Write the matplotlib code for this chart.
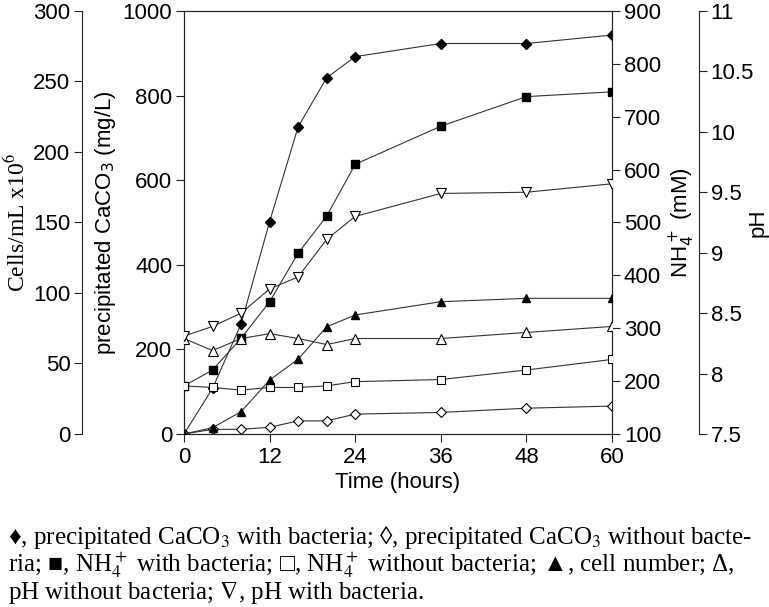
import matplotlib
matplotlib.use('Agg')
import matplotlib.pyplot as plt

# time points (hours)
hours = [0, 4, 8, 12, 16, 20, 24, 36, 48, 60]

# precipitated CaCO3 (mg/L)
caco3_bact = [0, 108, 260, 502, 726, 842, 892, 923, 923, 943]
caco3_nobact = [0, 11, 11, 16, 31, 31, 47, 51, 61, 66]

# NH4+ (mM)
nh4_bact = [191, 221, 281, 350, 442, 512, 610, 682, 738, 747]
nh4_nobact = [191, 188, 183, 188, 188, 191, 199, 203, 221, 241]

# cell number (cells/mL x10^6)
cells = [0, 4.5, 15.8, 38.3, 53, 76, 84.4, 93.8, 96.2, 96.2]

# pH
ph_nobact = [8.29, 8.19, 8.29, 8.33, 8.29, 8.24, 8.29, 8.29, 8.34, 8.39]
ph_bact = [8.31, 8.39, 8.50, 8.70, 8.80, 9.11, 9.30, 9.49, 9.50, 9.57]

caption = [
    '\u2666, precipitated CaCO$_3$ with bacteria; \u25ca, precipitated CaCO$_3$ without bacte-',
    'ria; \u25a0, NH$_4^+$ with bacteria; \u25a1, NH$_4^+$ without bacteria; \u25b2, cell number; \u0394,',
    'pH without bacteria; $\\nabla$, pH with bacteria.',
]

sans = 'Liberation Sans'
serif = 'Liberation Serif'
fs = 16
line_c = '#333333'
spine_c = '#222222'

fig = plt.figure(figsize=(7.69, 6.07), dpi=100)
ax = fig.add_axes([0.2393, 0.285, 0.5565, 0.697])
ax_nh4 = ax.twinx()
ax_cells = ax.twinx()
ax_ph = ax.twinx()


def style_ticks(a):
    a.tick_params(axis='y', direction='out', length=5.5, width=0.8, color=spine_c,
                  labelsize=fs, pad=3)
    for lab in a.get_yticklabels():
        lab.set_fontfamily(sans)


# CaCO3 on main axis
ax.plot(hours, caco3_bact, color=line_c, lw=0.8, marker='D', ms=5,
        mfc='black', mec='black', zorder=5)
ax.plot(hours, caco3_nobact, color=line_c, lw=0.8, marker='D', ms=5,
        mfc='white', mec='black', mew=0.8, zorder=5)
ax.set_xlim(0, 60)
ax.set_ylim(0, 1000)
ax.set_xticks(range(0, 61, 12))
ax.set_yticks(range(0, 1001, 200))
ax.tick_params(axis='x', direction='out', length=5.5, width=0.8, color=spine_c,
               labelsize=fs, pad=4)
for lab in ax.get_xticklabels():
    lab.set_fontfamily(sans)
style_ticks(ax)
ax.set_xlabel('Time (hours)', fontsize=fs, family=sans, labelpad=3)
ax.set_ylabel('precipitated CaCO$_3$ (mg/L)', fontsize=fs, family=sans,
              labelpad=3)
for s in ax.spines.values():
    s.set_color(spine_c)
    s.set_linewidth(0.8)

# NH4+ axis on the right spine
ax_nh4.plot(hours, nh4_bact, color=line_c, lw=0.8, marker='s', ms=5.5,
            mfc='black', mec='black', zorder=5)
ax_nh4.plot(hours, nh4_nobact, color=line_c, lw=0.8, marker='s', ms=5.5,
            mfc='white', mec='black', mew=0.8, zorder=5)
ax_nh4.set_ylim(100, 900)
ax_nh4.set_yticks(range(100, 901, 100))
style_ticks(ax_nh4)
ax_nh4.set_ylabel('NH$_4^+$ (mM)', fontsize=fs, family=sans)
ax_nh4.yaxis.set_label_coords(1.131, 0.5)
for s in ax_nh4.spines.values():
    s.set_color(spine_c)
    s.set_linewidth(0.8)

# cell number axis, far left
ax_cells.plot(hours, cells, color=line_c, lw=0.8, marker='^', ms=6,
              mfc='black', mec='black', zorder=5)
ax_cells.set_ylim(0, 300)
ax_cells.set_yticks(range(0, 301, 50))
ax_cells.yaxis.set_ticks_position('left')
ax_cells.yaxis.set_label_position('left')
ax_cells.spines['left'].set_position(('axes', -0.238))
ax_cells.spines['left'].set_visible(True)
for k in ['right', 'top', 'bottom']:
    ax_cells.spines[k].set_visible(False)
ax_cells.spines['left'].set_color(spine_c)
ax_cells.spines['left'].set_linewidth(0.8)
style_ticks(ax_cells)
ax_cells.set_ylabel('Cells/mL x10$^6$', fontsize=17, family=serif,
                    math_fontfamily='stix', labelpad=2)

# pH axis, far right
ax_ph.plot(hours, ph_nobact, color=line_c, lw=0.8, marker='^', ms=7.5,
           mfc='white', mec='black', mew=0.8, zorder=5)
ax_ph.plot(hours, ph_bact, color=line_c, lw=0.8, marker='v', ms=7.5,
           mfc='white', mec='black', mew=0.8, zorder=5)
ax_ph.set_ylim(7.5, 11)
ax_ph.set_yticks([7.5, 8, 8.5, 9, 9.5, 10, 10.5, 11])
ax_ph.set_yticklabels(['7.5', '8', '8.5', '9', '9.5', '10', '10.5', '11'])
ax_ph.spines['right'].set_position(('axes', 1.203))
for k in ['left', 'top', 'bottom']:
    ax_ph.spines[k].set_visible(False)
ax_ph.spines['right'].set_color(spine_c)
ax_ph.spines['right'].set_linewidth(0.8)
style_ticks(ax_ph)
ax_ph.set_ylabel('pH', fontsize=fs, family=sans)
ax_ph.yaxis.set_label_coords(1.316, 0.5)

for a in [ax_nh4, ax_cells, ax_ph]:
    a.patch.set_visible(False)

# caption below the chart
for i, line in enumerate(caption):
    fig.text(0.010, 0.103 - i * 0.045, line, fontsize=18, family=serif,
             math_fontfamily='stix', ha='left', va='baseline')

fig.savefig('out.png', dpi=100)
